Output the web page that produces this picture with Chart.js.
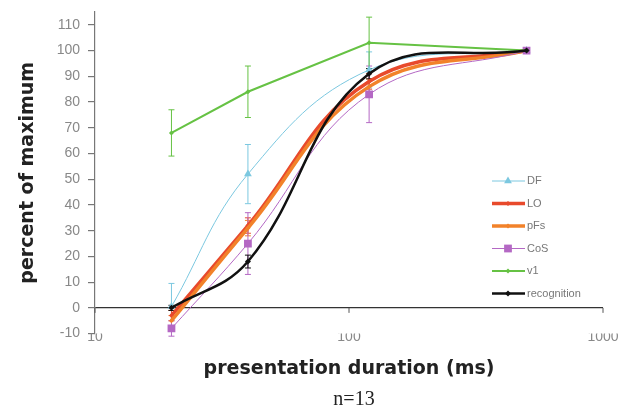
<!DOCTYPE html>
<html>
<head>
<meta charset="utf-8">
<script src="https://cdn.jsdelivr.net/npm/chart.js@4"></script>
<style>
  body { margin: 0; background: #fff; }
  #wrap { width: 623px; height: 408px; }
</style>
</head>
<body>
<div id="wrap"><canvas id="myChart"></canvas></div>
<script>
// presentation durations (ms)
const durations = [20, 40, 120, 500];
const xTickValues = [10, 100, 1000];
const yTickValues = [-10, 0, 10, 20, 30, 40, 50, 60, 70, 80, 90, 100, 110];

// series, percent of maximum
const seriesNames = ['DF', 'LO', 'pFs', 'CoS', 'v1', 'recognition'];
const dfValues = [0.5, 52, 92.5, 100];
const loValues = [-3, 32, 88, 100];
const pfsValues = [-5, 31, 86, 100];
const cosValues = [-8, 25, 83, 100];
const v1Values = [68, 84, 103, 100];
const recValues = [0, 18, 91, 100];

// error bar half-lengths
const dfErr = [9, 11.5, 7, 0];
const loErr = [2, 3, 3, 0];
const pfsErr = [2, 3, 3, 0];
const cosErr = [3, 12, 11, 0];
const v1Err = [9, 10, 10, 0];
const recErr = [1, 2.5, 2, 0];

const allValues = [dfValues, loValues, pfsValues, cosValues, v1Values, recValues];
const allErrors = [dfErr, loErr, pfsErr, cosErr, v1Err, recErr];
const colors = ['#7cc8e0', '#e84a2c', '#f2822a', '#b468c4', '#66c244', '#111111'];
const widths = [1, 3.5, 3.5, 1, 2, 2.5];
const pointStyles = ['triangle', 'rectRot', 'rectRot', 'rect', 'rectRot', 'rectRot'];
const pointSizes = [4.5, 2.5, 2.5, 5.5, 2.5, 3];
const tensions = [0.4, 0.4, 0.4, 0.4, 0, 0.4];

const datasets = seriesNames.map((name, i) => ({
    label: name,
    data: durations.map((d, j) => ({ x: d, y: allValues[i][j] })),
    errors: allErrors[i],
    borderColor: colors[i],
    backgroundColor: colors[i],
    borderWidth: widths[i],
    pointStyle: pointStyles[i],
    pointRadius: pointSizes[i],
    pointBorderWidth: 0,
    tension: tensions[i],
    order: seriesNames.length - i
}));

// error bars drawn from each dataset's errors array
const errorBars = {
    id: 'errorBars',
    beforeDatasetsDraw(chart) {
        const { ctx, scales: { x, y } } = chart;
        ctx.save();
        chart.data.datasets.forEach((ds) => {
            ctx.strokeStyle = ds.borderColor;
            ctx.lineWidth = 1;
            ds.data.forEach((p, j) => {
                const e = ds.errors[j];
                if (!e) return;
                const px = x.getPixelForValue(p.x);
                const top = y.getPixelForValue(p.y + e);
                const bot = y.getPixelForValue(p.y - e);
                ctx.beginPath();
                ctx.moveTo(px, top); ctx.lineTo(px, bot);
                ctx.moveTo(px - 3, top); ctx.lineTo(px + 3, top);
                ctx.moveTo(px - 3, bot); ctx.lineTo(px + 3, bot);
                ctx.stroke();
            });
        });
        // small tick marks on the zero line
        const y0 = y.getPixelForValue(0);
        ctx.strokeStyle = '#555';
        xTickValues.forEach(v => {
            const px = x.getPixelForValue(v);
            ctx.beginPath();
            ctx.moveTo(px, y0); ctx.lineTo(px, y0 + 5);
            ctx.stroke();
        });
        ctx.restore();
    }
};

// legend inside the plot, plus the n=13 note
const insideLegend = {
    id: 'insideLegend',
    afterDraw(chart) {
        const ctx = chart.ctx;
        ctx.save();
        chart.data.datasets.forEach((ds, i) => {
            const ly = 181 + i * 22.5;
            ctx.strokeStyle = ds.borderColor;
            ctx.lineWidth = ds.borderWidth;
            ctx.beginPath();
            ctx.moveTo(492, ly); ctx.lineTo(525, ly);
            ctx.stroke();
            ctx.fillStyle = ds.backgroundColor;
            Chart.helpers.drawPoint(ctx, { pointStyle: ds.pointStyle, radius: ds.pointRadius, rotation: 0, borderWidth: 0 }, 508, ly);
            ctx.fillStyle = '#777';
            ctx.font = '11px "Liberation Sans", Arial, sans-serif';
            ctx.textBaseline = 'middle';
            ctx.fillText(ds.label, 527, ly);
        });
        ctx.fillStyle = '#222';
        ctx.font = '20px "Liberation Serif", "Times New Roman", serif';
        ctx.textAlign = 'center';
        ctx.textBaseline = 'middle';
        ctx.fillText('n=13', 354, 400);
        ctx.restore();
    }
};

const ctx = document.getElementById('myChart').getContext('2d');
const myChart = new Chart(ctx, {
    type: 'line',
    data: { datasets: datasets },
    plugins: [errorBars, insideLegend],
    options: {
        responsive: true,
        maintainAspectRatio: false,
        animation: false,
        layout: { padding: { top: 12, right: 20, left: 0, bottom: 0 } },
        scales: {
            x: {
                type: 'logarithmic',
                min: 10,
                max: 1000,
                afterBuildTicks: (scale) => {
                    scale.ticks = xTickValues.map(v => ({ value: v }));
                },
                afterFit: (scale) => { scale.height = 74.4; },
                grid: { display: false, drawTicks: false },
                border: { display: false },
                ticks: {
                    padding: -5,
                    color: '#888',
                    font: { family: '"Liberation Sans", Arial, sans-serif', size: 14 },
                    callback: (v) => String(v)
                },
                title: {
                    display: true,
                    text: 'presentation duration (ms)',
                    color: '#222',
                    font: { family: '"DejaVu Sans", Verdana, sans-serif', size: 19, weight: 'bold' },
                    padding: { top: 0, bottom: 28 }
                }
            },
            y: {
                min: -10,
                max: 115,
                afterBuildTicks: (scale) => {
                    scale.ticks = yTickValues.map(v => ({ value: v }));
                },
                afterFit: (scale) => {
                    scale.width = 95;
                    scale.paddingTop = 0;
                    scale.paddingBottom = 0;
                },
                grid: {
                    color: (c) => (c.tick && c.tick.value === 0 ? '#333' : 'rgba(0,0,0,0)'),
                    lineWidth: 1.2,
                    tickColor: '#777',
                    tickLength: 7
                },
                border: { display: true, color: '#777', width: 1.2 },
                ticks: {
                    autoSkip: false,
                    padding: 8,
                    color: '#888',
                    font: { family: '"Liberation Sans", Arial, sans-serif', size: 14 }
                },
                title: {
                    display: true,
                    text: 'percent of maximum',
                    color: '#222',
                    font: { family: '"DejaVu Sans", Verdana, sans-serif', size: 19, weight: 'bold' },
                    padding: { top: 17, bottom: 0 }
                }
            }
        },
        plugins: {
            legend: { display: false },
            tooltip: { enabled: false }
        }
    }
});
</script>
</body>
</html>
